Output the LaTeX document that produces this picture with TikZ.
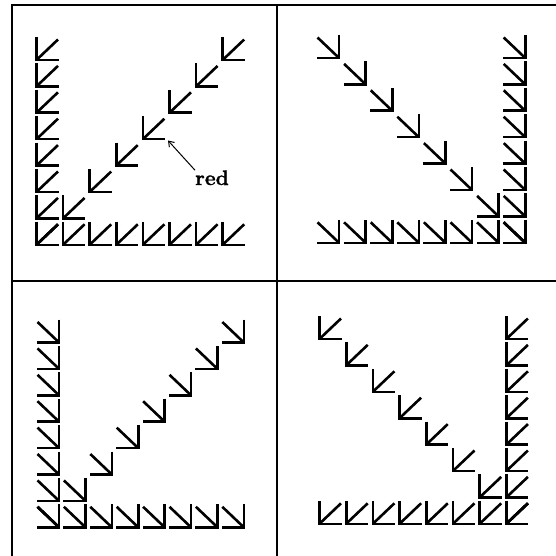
\documentclass[tikz,border=0pt]{standalone}
\usepackage{fontspec}
\usetikzlibrary{arrows.meta}
\newfontfamily\redfont[BoldFeatures={FakeBold=1.2}]{Latin Modern Roman}
\tikzset{
  frame/.style={line width=2.3pt, line cap=rect},
  glyphline/.style={line width=2.6pt},
  pics/glyphsw/.style={code={
    \draw[glyphline] (0,0) -- (0,23) -- (22,23);
    \draw[glyphline] (21.5,2.5) -- (1,22);
  }},
  pics/glyphse/.style={code={
    \draw[glyphline] (22,0) -- (22,23) -- (0,23);
    \draw[glyphline] (0.5,2.5) -- (21,22);
  }},
  lbl/.style={font=\fontsize{21}{25}\redfont\bfseries, inner sep=0pt},
  pointer/.style={line width=1pt, -{Straight Barb[length=5pt,width=7pt]}}
}
\begin{document}
\begin{tikzpicture}[x=1pt,y=-1pt]
\useasboundingbox (0,0) rectangle (556,556);
% frame
\draw[frame] (556,5) -- (12,5) -- (12,556);
\draw[frame] (277,5) -- (277,556);
\draw[frame] (12,281) -- (556,281);
% panel 1 (top-left)
\foreach \i in {0,...,7} {
  \pic at ({36.5+0*26.6},{37+\i*26.4}) {glyphsw};
  \pic at ({36.5+\i*26.6},{37+7*26.4}) {glyphsw};
  \pic at ({36.5+\i*26.6},{37+(7-\i)*26.4}) {glyphsw};
}
% panel 2 (top-right)
\foreach \i in {0,...,7} {
  \pic at ({317+7*26.6},{35+\i*26.4}) {glyphse};
  \pic at ({317+\i*26.6},{35+7*26.4}) {glyphse};
  \pic at ({317+\i*26.6},{35+\i*26.4}) {glyphse};
}
% panel 3 (bottom-left)
\foreach \i in {0,...,7} {
  \pic at ({37+0*26.4},{319.5+\i*26.4}) {glyphse};
  \pic at ({37+\i*26.4},{319.5+7*26.4}) {glyphse};
  \pic at ({37+\i*26.4},{319.5+(7-\i)*26.4}) {glyphse};
}
% panel 4 (bottom-right)
\foreach \i in {0,...,7} {
  \pic at ({319.5+7*26.7},{316+\i*26.4}) {glyphsw};
  \pic at ({319.5+\i*26.7},{316+7*26.4}) {glyphsw};
  \pic at ({319.5+\i*26.7},{316+\i*26.4}) {glyphsw};
}
% label
\node[lbl, anchor=base west] (red) at (195,185) {red};
\coordinate (redtip) at (168,140.5);
\draw[pointer] (red.north west) -- (redtip);
\end{tikzpicture}
\end{document}
